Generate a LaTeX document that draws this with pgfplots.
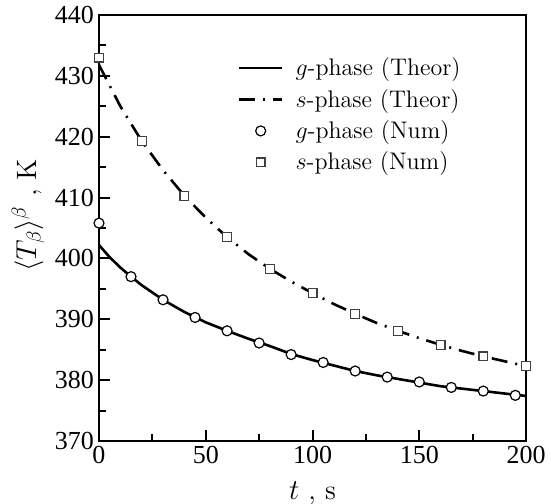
\documentclass[border=0pt]{standalone}
\usepackage{fontspec}
\usepackage{pgfplots}
\pgfplotsset{compat=1.18}
\newfontfamily\tnr{Liberation Serif}

\pgfplotstableread{
t   T
0   405.8
15  397.0
30  393.2
45  390.3
60  388.1
75  386.1
90  384.2
105 382.9
120 381.5
135 380.5
150 379.7
165 378.8
180 378.2
195 377.5
}\gnum

\pgfplotstableread{
t   T
0   433.0
20  419.3
40  410.3
60  403.5
80  398.3
100 394.3
120 390.9
140 388.1
160 385.8
180 383.9
200 382.3
}\snum

\pgfplotstableread{
t   T
0   402.2
5   400.2
10  398.5
15  397.0
20  395.6
25  394.4
30  393.2
40  391.2
50  389.5
60  388.1
70  386.8
80  385.6
90  384.3
100 383.3
110 382.4
120 381.5
130 380.8
140 380.2
150 379.6
160 379.0
170 378.6
180 378.2
190 377.8
200 377.4
}\gth

\pgfplotstableread{
t   T
0   431.8
10  425.0
20  419.3
30  414.5
40  410.3
50  406.7
60  403.5
70  400.7
80  398.3
90  396.2
100 394.3
110 392.5
120 390.9
130 389.4
140 388.1
150 386.9
160 385.8
170 384.8
180 383.9
190 383.1
200 382.3
}\sth

\begin{document}
\begin{tikzpicture}
\begin{axis}[
  name=ax,
  scale only axis,
  width=213.5pt, height=213pt,
  xmin=0, xmax=200, ymin=370, ymax=440,
  xtick={0,50,...,200}, ytick={370,380,...,440},
  minor x tick num=1, minor y tick num=1,
  tick align=inside, xtick pos=bottom, ytick pos=left,
  major tick length=5.5pt, minor tick length=3.5pt,
  every tick/.style={black, line width=1pt},
  axis line style={line width=1.1pt},
  /pgf/number format/assume math mode=true,
  ticklabel style={font=\tnr\fontsize{13}{15}\selectfont},
  xticklabel style={yshift=1pt},
  yticklabel style={xshift=1pt},
  xlabel={$t$ , s}, ylabel={$\langle T_\beta\rangle^\beta$ , K},
  label style={font=\fontsize{14}{16}\selectfont},
  xlabel style={at={(axis description cs:0.5,-0.122)}, anchor=center},
  ylabel style={at={(axis description cs:-0.166,0.53)}, anchor=center},
  legend style={draw=none, fill=none, at={(0.31,0.915)}, anchor=north west,
    font=\fontsize{12}{14}\selectfont, row sep=3.2pt, column sep=4pt,
    nodes={inner ysep=1pt}},
  legend cell align=left,
  legend image code/.code={\draw[mark repeat=2,mark phase=2,#1] plot coordinates {(0cm,0cm) (0.38cm,0cm) (0.76cm,0cm)};},
]
\addplot[black, line width=1.3pt, no marks] table {\gth};
\addlegendentry{$g$-phase (Theor)}
\addplot[black, line width=1.3pt, no marks, dash pattern=on 8pt off 4pt on 1pt off 4pt] table {\sth};
\addlegendentry{$s$-phase (Theor)}
\addplot[only marks, mark=*, mark size=2.5pt, mark options={fill=white, draw=black, line width=0.6pt}] table {\gnum};
\addlegendentry{$g$-phase (Num)}
\addplot[only marks, mark=square*, mark size=2.2pt, mark options={fill=white, draw=black!75, line width=0.6pt}] table {\snum};
\addlegendentry{$s$-phase (Num)}
\end{axis}
\pgfresetboundingbox
\path[use as bounding box] ([xshift=-49.5pt,yshift=-31.5pt]ax.south west) rectangle ([xshift=12.5pt,yshift=7.5pt]ax.north east);
\end{tikzpicture}
\end{document}
